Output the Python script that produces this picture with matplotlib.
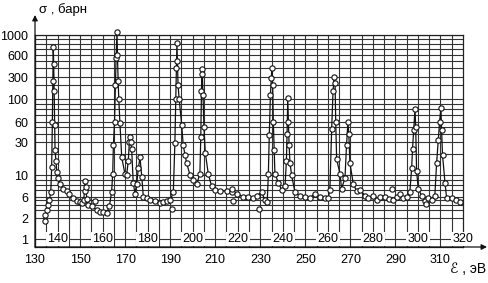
import numpy as np
import matplotlib
matplotlib.use("Agg")
import matplotlib.pyplot as plt
from matplotlib.ticker import FixedLocator, NullFormatter

plt.rcParams['font.family'] = ['Liberation Sans', 'DejaVu Sans']

# measured points, energy in eV and cross-section in barn
energy = [134.3, 134.6, 135.2, 135.8, 136.4, 137.0, 137.4, 137.7, 137.9, 138.1,
          138.3, 138.5, 138.7, 138.9, 139.3, 139.7, 140.4, 141.1, 142.6, 144.1,
          145.2, 146.7, 148.5, 150.0, 151.0, 151.6, 152.0, 152.2, 152.5, 153.0,
          153.7, 155.2, 157.4, 158.9, 160.3, 161.8, 163.0, 164.0, 164.5, 164.8,
          165.3, 165.7, 166.0, 166.4, 166.6, 166.9, 167.2, 167.7, 168.5, 169.9,
          170.7, 171.4, 171.9, 172.2, 172.6, 172.9, 173.6, 174.4, 175.1, 175.9,
          176.6, 177.4, 178.1, 179.6, 181.0, 183.3, 185.5, 186.9, 188.4, 190.0,
          191.4, 192.1, 192.5, 192.8, 193.0, 193.2, 193.5, 194.0, 195.1, 195.8,
          196.6, 197.3, 198.8, 200.3, 201.8, 203.2, 203.6, 203.9, 204.1, 204.3,
          204.6, 205.0, 205.6, 206.9, 208.4, 209.9, 212.1, 215.1, 217.3, 219.5,
          222.5, 224.7, 226.9, 228.4, 230.6, 232.1, 233.1, 233.6, 234.0, 234.5,
          234.9, 235.2, 235.5, 235.8, 236.2, 236.5, 238.0, 239.5, 241.0, 241.6,
          241.9, 242.2, 242.5, 242.8, 243.2, 243.9, 245.4, 247.6, 249.8, 252.1,
          254.3, 256.5, 258.7, 260.2, 260.9, 261.7, 262.3, 262.8, 263.2, 263.5,
          263.9, 265.4, 266.1, 267.6, 268.3, 268.9, 269.3, 269.8, 271.3, 272.8,
          274.3, 276.5, 278.0, 280.2, 281.7, 283.1, 285.3, 287.0, 289.0, 290.5,
          292.0, 293.5, 295.0, 296.4, 297.2, 297.6, 298.1, 298.7, 299.0, 299.4,
          300.1, 301.6, 303.1, 304.6, 306.1, 307.5, 308.3, 309.0, 309.6, 310.2,
          310.5, 310.9, 312.0, 312.7, 315.0, 316.9, 318.6]
sigma = [1.8, 2.3, 3.0, 4.0, 5.1, 6.7, 13, 60, 250, 740,
         450, 150, 55, 23, 16, 11, 9.3, 8.1, 7.3, 6.9,
         6.5, 5.8, 4.9, 4.7, 4.3, 5.0, 6.9, 8.8, 7.5, 5.5,
         3.9, 3.7, 3.0, 2.8, 2.7, 2.6, 3.7, 6.7, 10.5, 27,
         60, 200, 550, 1100, 600, 250, 100, 58, 18, 10.5,
         10, 16, 30, 36, 30, 24, 8.4, 6.5, 8.1, 12.5,
         18, 9.6, 6.0, 5.8, 5.1, 4.9, 4.3, 4.7, 4.9, 5.0,
         6.7, 29, 100, 400, 820, 500, 200, 100, 55, 27,
         19.5, 15, 10, 8.9, 8.1, 10.5, 36, 150, 380, 330,
         120, 50, 21, 10.5, 7.7, 7.1, 6.9, 6.9, 6.8, 6.5,
         6.0, 6.0, 5.8, 6.2, 6.7, 5.1, 4.7, 10.5, 38, 120,
         280, 400, 200, 60, 23, 10.5, 8.4, 7.1, 7.7, 16,
         40, 105, 60, 27, 15, 10, 6.7, 6.2, 6.0, 5.8,
         6.5, 6.0, 5.8, 5.8, 7.1, 47, 150, 300, 220, 60,
         17, 10.3, 7.3, 9.3, 27, 60, 40, 15, 8.1, 6.9,
         7.1, 6.2, 5.8, 6.2, 5.1, 6.0, 6.0, 5.5, 5.1, 6.0,
         6.5, 5.8, 6.0, 6.7, 12.5, 24, 45, 80, 50, 11.5,
         7.3, 6.2, 4.9, 5.8, 5.1, 6.2, 15, 32, 60, 82,
         45, 19.5, 8.4, 5.8, 5.8, 5.1, 4.7]

# scattered points off the curve
out_energy = [156.6, 190.7, 217.4, 218.0, 229.4, 288.3, 303.4]
out_sigma = [4.9, 3.2, 7.3, 4.9, 3.2, 7.3, 4.2]

# the paper's vertical scale is drawn by hand: labelled values and their heights
y_labels = [1, 2, 6, 10, 30, 60, 100, 300, 600, 1000]
y_minor = [3, 4, 5, 7, 8, 9, 20, 40, 50, 70, 80, 90, 200, 400, 500, 700, 800, 900]
scale_log = np.log10([0.5, 1, 2, 6, 10, 30, 60, 100, 300, 600, 1000, 2000])
scale_pos = np.array([-14, 0, 21, 42, 64, 97, 117, 140, 162, 184, 204, 224])

x_lower = [130, 150, 170, 190, 210, 230, 250, 270, 290, 310]
x_upper = [140, 160, 180, 200, 220, 240, 260, 280, 300, 320]


def fwd(v):
    v = np.clip(np.asarray(v, dtype=float), 1e-6, None)
    return np.interp(np.log10(v), scale_log, scale_pos)


def inv(p):
    return 10 ** np.interp(p, scale_pos, scale_log)


fig = plt.figure(figsize=(4.88, 2.83), dpi=100)
ax = fig.add_axes([35 / 488, 36 / 283, 428 / 488, 212 / 283])
ax.set_yscale('function', functions=(fwd, inv))
ax.set_xlim(130, 320)
ax.set_ylim(0.673, 1000)

ax.yaxis.set_major_locator(FixedLocator(y_labels))
ax.yaxis.set_minor_locator(FixedLocator(y_minor))
ax.yaxis.set_minor_formatter(NullFormatter())
ax.set_yticklabels([str(v) for v in y_labels])
ax.xaxis.set_major_locator(FixedLocator(x_lower))
ax.xaxis.set_minor_locator(FixedLocator(np.arange(135, 320, 5)))
ax.xaxis.set_minor_formatter(NullFormatter())
ax.set_xticklabels([str(v) for v in x_lower])

ax.tick_params(which='both', length=0)
ax.tick_params(axis='y', labelsize=9, pad=5)
ax.tick_params(axis='x', labelsize=9, pad=5)
ax.grid(True, which='both', color='#333333', lw=0.8)
ax.set_axisbelow(True)
for s in ax.spines.values():
    s.set_color('#222222')
    s.set_linewidth(0.9)

for e in x_upper:
    ax.text(e, 1, str(e), ha='center', va='center', fontsize=9,
            bbox=dict(facecolor='white', edgecolor='none', pad=1.0), zorder=3)

ax.plot(energy, sigma, '-', color='#111111', lw=0.9, zorder=4, clip_on=False)
ax.plot(energy, sigma, 'o', ms=3.8, mfc='white', mec='#111111', mew=0.8,
        zorder=5, clip_on=False)
ax.plot(out_energy, out_sigma, 'o', ms=3.8, mfc='white', mec='#111111',
        mew=0.8, zorder=5)

# axis arrows
ax.annotate('', xy=(0, 1 + 20 / 212), xytext=(0, 0), xycoords='axes fraction',
            arrowprops=dict(arrowstyle='-|>', color='#111111', lw=0.9,
                            mutation_scale=8, shrinkA=0, shrinkB=0))
ax.annotate('', xy=(1 + 24 / 428, 0), xytext=(0, 0), xycoords='axes fraction',
            arrowprops=dict(arrowstyle='-|>', color='#111111', lw=0.9,
                            mutation_scale=8, shrinkA=0, shrinkB=0))

fig.text(39 / 488, 1 - 10 / 283, 'σ , барн', fontsize=9.5, va='center')
fig.text(486 / 488, 1 - 269 / 283, 'ℰ , эВ', fontsize=10, va='center', ha='right')

fig.savefig('out.png', dpi=100)
